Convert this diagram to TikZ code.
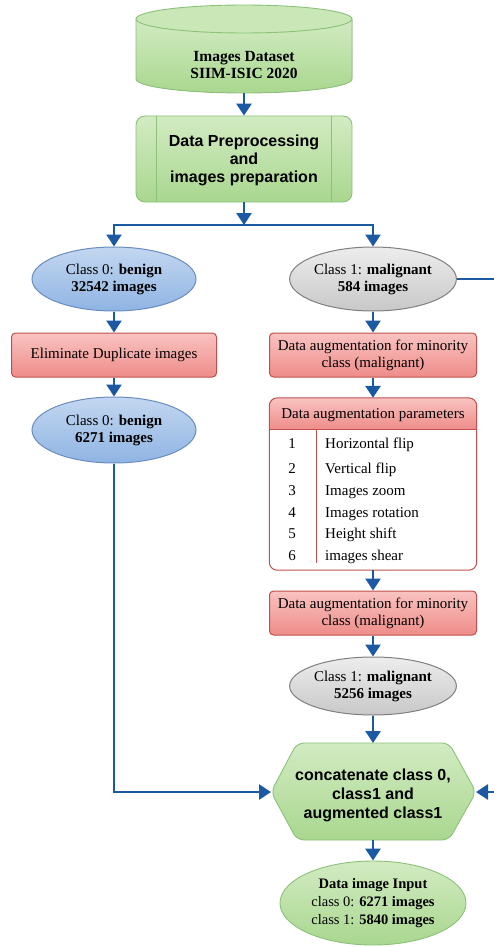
\documentclass[tikz,border=0pt]{standalone}
\usepackage{fontspec}
\setmainfont{Liberation Serif}
\newfontfamily\arialfont{Liberation Sans}
\usetikzlibrary{shapes.geometric,arrows.meta,calc}
\definecolor{arrowblue}{HTML}{1B5AA3}
\definecolor{greentop}{HTML}{D2EBC2}
\definecolor{greenbot}{HTML}{A9D78F}
\definecolor{greenline}{HTML}{8CC17A}
\definecolor{bluetop}{HTML}{C3D7F0}
\definecolor{bluebot}{HTML}{8FB4E3}
\definecolor{blueline}{HTML}{6A8CC0}
\definecolor{greytop}{HTML}{EDEDED}
\definecolor{greybot}{HTML}{C8C8C8}
\definecolor{greyline}{HTML}{7F7F7F}
\definecolor{redtop}{HTML}{F9C3C1}
\definecolor{redbot}{HTML}{EE8C89}
\definecolor{redline}{HTML}{C0504D}
\tikzset{
  arr/.style={draw=arrowblue, line width=2.8pt, -{Triangle[width=15pt,length=12pt]}},
  plainline/.style={draw=arrowblue, line width=2.8pt},
  greenfill/.style={top color=greentop, bottom color=greenbot, draw=greenline, line width=0.9pt},
  bluell/.style={ellipse, top color=bluetop, bottom color=bluebot, draw=blueline, line width=1pt,
    font=\fontsize{15}{17}\selectfont, align=center, inner sep=0pt},
  greyell/.style={ellipse, top color=greytop, bottom color=greybot, draw=greyline, line width=1pt,
    font=\fontsize{15}{17}\selectfont, align=center, inner sep=0pt},
  redbox/.style={rectangle, rounded corners=4pt, top color=redtop, bottom color=redbot, draw=redline,
    line width=1pt, font=\fontsize{15}{17}\selectfont, align=center, inner sep=0pt},
  sanstext/.style={font=\arialfont\bfseries\fontsize{16}{18}\selectfont, align=center},
  rowtext/.style={font=\fontsize{15}{17}\selectfont, anchor=base west, inner sep=0pt},
  rownum/.style={font=\fontsize{15}{17}\selectfont, anchor=base, inner sep=0pt},
}
\begin{document}
\begin{tikzpicture}[x=1pt,y=-1pt]
\useasboundingbox (0,0) rectangle (494,947);
% cylinder
\fill[top color=greentop, bottom color=greenbot] (136,19) -- (136,79) arc[start angle=180, end angle=0, x radius=108, y radius=14] -- (352,19) -- cycle;
\draw[greenline, line width=0.9pt] (136,19) -- (136,79) arc[start angle=180, end angle=0, x radius=108, y radius=14] -- (352,19);
\draw[greenline, line width=0.9pt, fill=greentop!80!greenbot] (244,19) ellipse[x radius=108, y radius=14];
\node[font=\fontsize{15.5}{17.5}\selectfont\bfseries, align=center] (db) at (244,65) {Images Dataset\\SIIM-ISIC 2020};
\coordinate (dbB) at (244,93);
% preprocessing
\node[greenfill, rectangle, rounded corners=9pt, minimum width=216pt, minimum height=86pt, inner sep=0pt] (pre) at (244,159) {};
\draw[greenline, line width=0.9pt] ([xshift=21pt]pre.north west) -- ([xshift=21pt]pre.south west);
\draw[greenline, line width=0.9pt] ([xshift=-21pt]pre.north east) -- ([xshift=-21pt]pre.south east);
\node[sanstext] (pretext) at (244,160) {Data Preprocessing\\and\\images preparation};
\draw[arr] (dbB) -- (pre.north);
% fork
\coordinate (fork) at (244,225);
\draw[arr] (pre.south) -- (fork);
% left branch
\node[bluell, minimum width=164pt, minimum height=64pt] (ben1) at (114,279) {Class 0: \textbf{benign}\\\textbf{32542 images}};
\node[redbox, minimum width=205pt, minimum height=44pt] (elim) at (114,355) {Eliminate Duplicate images};
\node[bluell, minimum width=164pt, minimum height=66pt] (ben2) at (114,430) {Class 0: \textbf{benign}\\\textbf{6271 images}};
% right branch
\node[greyell, minimum width=164pt, minimum height=64pt] (mal1) at (373,279) {Class 1: \textbf{malignant}\\\textbf{584 images}};
\node[redbox, minimum width=207pt, minimum height=44pt] (aug1) at (373,355) {Data augmentation for minority\\class (malignant)};
% parameter table
\node[rectangle, rounded corners=8pt, fill=white, minimum width=207pt, minimum height=172pt, inner sep=0pt] (param) at (373,484) {};
\begin{scope}
\clip[rounded corners=8pt] (param.north west) rectangle (param.south east);
\fill[top color=redtop, bottom color=redbot] (param.north west) rectangle ([yshift=-32pt]param.north east);
\end{scope}
\draw[redline, line width=1pt] ([yshift=-32pt]param.north west) -- ([yshift=-32pt]param.north east);
\draw[redline, line width=1pt, rounded corners=8pt] (param.north west) rectangle (param.south east);
\node[font=\fontsize{15}{17}\selectfont, inner sep=0pt] (phead) at (373,415) {Data augmentation parameters};
\coordinate (vlT) at (316,430);
\coordinate (vlB) at (316,563);
\draw[redline, line width=1pt] (vlT) -- (vlB);
\node[rownum] (n1) at (292,448) {1};
\node[rowtext] (t1) at (325,448) {Horizontal flip};
\node[rownum] (n2) at (292,473) {2};
\node[rowtext] (t2) at (325,473) {Vertical flip};
\node[rownum] (n3) at (292,495) {3};
\node[rowtext] (t3) at (325,495) {Images zoom};
\node[rownum] (n4) at (292,517) {4};
\node[rowtext] (t4) at (325,517) {Images rotation};
\node[rownum] (n5) at (292,538) {5};
\node[rowtext] (t5) at (325,538) {Height shift};
\node[rownum] (n6) at (292,560) {6};
\node[rowtext] (t6) at (325,560) {images shear};
\node[redbox, minimum width=207pt, minimum height=44pt] (aug2) at (373,613) {Data augmentation for minority\\class (malignant)};
\node[greyell, minimum width=164pt, minimum height=58pt] (mal2) at (373,686) {Class 1: \textbf{malignant}\\\textbf{5256 images}};
% hexagon
\coordinate (hexT) at (373,743);
\coordinate (hexL) at (271,792);
\coordinate (hexR) at (476,792);
\coordinate (hexB) at (373,840);
\draw[greenfill, rounded corners=7pt] (297,743) -- (449,743) -- (hexR) -- (449,840) -- (297,840) -- (hexL) -- cycle;
\node[sanstext, font=\arialfont\bfseries\fontsize{16}{19}\selectfont] (concat) at (373,795) {concatenate class 0,\\class1 and\\augmented class1};
% final
\node[ellipse, greenfill, minimum width=186pt, minimum height=84pt, inner sep=0pt, align=center,
  font=\fontsize{14.5}{18}\selectfont] (final) at (373,903) {\textbf{Data image Input}\\class 0: \textbf{6271 images}\\class 1: \textbf{5840 images}};
% connectors
\draw[arr] (fork) -| (ben1.north);
\draw[arr] (fork) -| (mal1.north);
\draw[arr] (ben1.south) -- (elim.north);
\draw[arr] (elim.south) -- (ben2.north);
\draw[arr] (mal1.south) -- (aug1.north);
\draw[arr] (aug1.south) -- (param.north);
\draw[arr] (param.south) -- (aug2.north);
\draw[arr] (aug2.south) -- (mal2.north);
\draw[arr] (mal2.south) -- (hexT);
\draw[arr] (ben2.south) |- (hexL);
\coordinate (edgeA) at (496,279);
\coordinate (edgeB) at (496,792);
\draw[plainline] (mal1.east) -- (edgeA);
\draw[arr] (edgeB) -- (hexR);
\draw[arr] (hexB) -- (final.north);
\end{tikzpicture}
\end{document}
